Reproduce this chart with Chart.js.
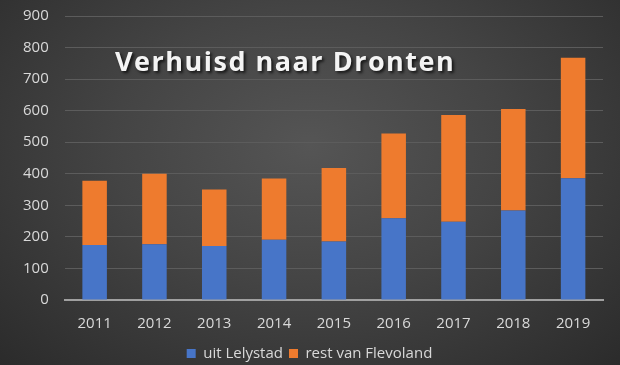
<!DOCTYPE html>
<html lang="nl">
<head>
  <meta charset="UTF-8">
  <title>Verhuisd naar Dronten</title>
  <script src="https://cdn.jsdelivr.net/npm/chart.js"></script>
  <style>
    html, body { margin: 0; padding: 0; }
    body {
      width: 620px; height: 365px; overflow: hidden;
      background: radial-gradient(ellipse at 50% 40%, #555555 0%, #444444 45%, #2b2b2b 100%);
      font-family: "Open Sans", "Noto Sans", sans-serif;
    }
    #wrap { position: relative; width: 620px; height: 365px; }
    #title {
      position: absolute; left: 115px; top: 42px;
      color: #f4f4f4; font-size: 27px; font-weight: bold; letter-spacing: 1.5px;
      text-shadow: 2px 2px 3px rgba(0,0,0,0.7);
      white-space: nowrap;
    }
  </style>
</head>
<body>
<div id="wrap">
  <canvas id="chart" width="620" height="365"></canvas>
  <div id="title">Verhuisd naar Dronten</div>
</div>
<script>
  const years = ['2011', '2012', '2013', '2014', '2015', '2016', '2017', '2018', '2019'];
  const uitLelystad = [174, 177, 171, 191, 185, 259, 248, 284, 386];
  const restFlevoland = [204, 223, 179, 194, 233, 269, 338, 321, 382];
  const yTicks = [0, 100, 200, 300, 400, 500, 600, 700, 800, 900];

  const textColor = '#d9d9d9';

  new Chart(document.getElementById('chart'), {
    type: 'bar',
    data: {
      labels: years,
      datasets: [{
        label: 'uit Lelystad',
        data: uitLelystad,
        backgroundColor: '#4775c8',
        barPercentage: 0.82,
        categoryPercentage: 0.5
      }, {
        label: 'rest van Flevoland',
        data: restFlevoland,
        backgroundColor: '#ee7b2e',
        barPercentage: 0.82,
        categoryPercentage: 0.5
      }]
    },
    options: {
      responsive: false,
      animation: false,
      layout: { padding: { top: 0, right: 17, left: 16, bottom: -6 } },
      plugins: {
        tooltip: { enabled: false },
        legend: {
          position: 'bottom',
          labels: {
            color: textColor,
            font: { family: 'Open Sans', size: 15 },
            boxWidth: 9, boxHeight: 9,
            padding: 6
          }
        }
      },
      scales: {
        x: {
          stacked: true,
          grid: { display: false },
          border: { color: '#a0a0a0', width: 2 },
          ticks: { color: textColor, font: { family: 'Open Sans', size: 15 }, padding: 7 }
        },
        y: {
          stacked: true,
          min: 0, max: 900,
          afterBuildTicks: axis => { axis.ticks = yTicks.map(v => ({ value: v })); },
          grid: { color: '#5c5c5c', lineWidth: 1, tickLength: 9, tickColor: 'rgba(0,0,0,0)' },
          border: { display: false },
          ticks: { color: textColor, font: { family: 'Open Sans', size: 15 }, padding: 7 }
        }
      }
    }
  });
</script>
</body>
</html>
